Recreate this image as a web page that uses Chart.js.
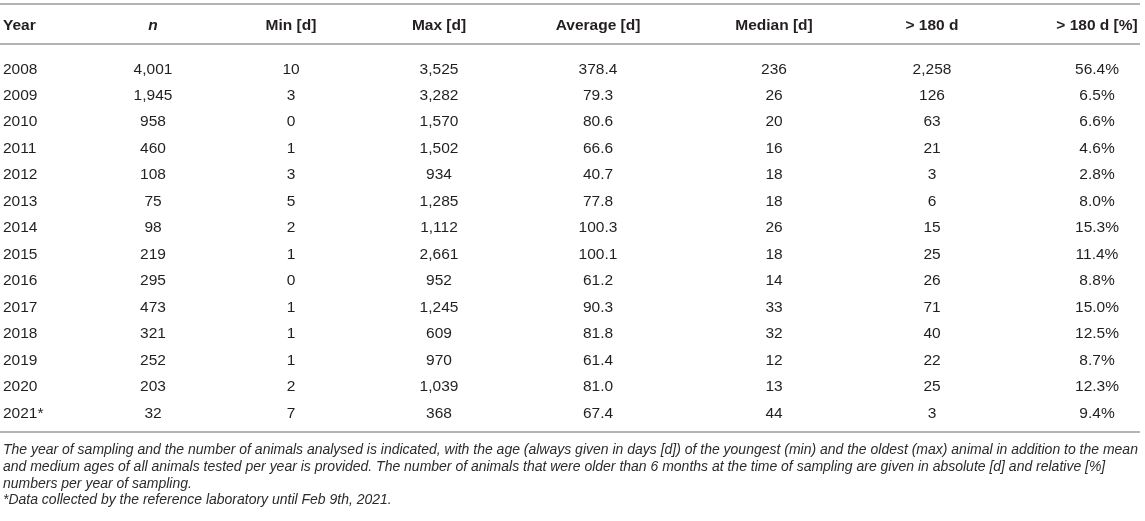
<!DOCTYPE html>
<html><head><meta charset="utf-8">
<script src="https://cdn.jsdelivr.net/npm/chart.js@4/dist/chart.umd.min.js"></script>
<style>html,body{margin:0;padding:0;background:#fff;overflow:hidden}#wrap{width:1145px;height:521px;position:relative}</style>
</head><body><div id="wrap"><canvas id="c" width="1145" height="521"></canvas></div>
<script>
// ---------- DATA ----------
const headers = ['Year', 'n', 'Min [d]', 'Max [d]', 'Average [d]', 'Median [d]', '> 180 d', '> 180 d [%]'];
const years = ['2008','2009','2010','2011','2012','2013','2014','2015','2016','2017','2018','2019','2020','2021*'];
const nAnimals   = [4001, 1945, 958, 460, 108, 75, 98, 219, 295, 473, 321, 252, 203, 32];
const minDays    = [10, 3, 0, 1, 3, 5, 2, 1, 0, 1, 1, 1, 2, 7];
const maxDays    = [3525, 3282, 1570, 1502, 934, 1285, 1112, 2661, 952, 1245, 609, 970, 1039, 368];
const avgDays    = [378.4, 79.3, 80.6, 66.6, 40.7, 77.8, 100.3, 100.1, 61.2, 90.3, 81.8, 61.4, 81.0, 67.4];
const medianDays = [236, 26, 20, 16, 18, 18, 26, 18, 14, 33, 32, 12, 13, 44];
const over180    = [2258, 126, 63, 21, 3, 6, 15, 25, 26, 71, 40, 22, 25, 3];
const over180Pct = [56.4, 6.5, 6.6, 4.6, 2.8, 8.0, 15.3, 11.4, 8.8, 15.0, 12.5, 8.7, 12.3, 9.4];
const captionLines = [
  'The year of sampling and the number of animals analysed is indicated, with the age (always given in days [d]) of the youngest (min) and the oldest (max) animal in addition to the mean',
  'and medium ages of all animals tested per year is provided. The number of animals that were older than 6 months at the time of sampling are given in absolute [d] and relative [%]',
  'numbers per year of sampling.'
];
const footnote = '*Data collected by the reference laboratory until Feb 9th, 2021.';

// ---------- LAYOUT / STYLE ----------
const W = 1145, H = 521;
const COL_X = [3, 153, 291, 439, 598, 774, 932, 1097];
const COL_ALIGN = ['left','center','center','center','center','center','center','center'];
const ROW0_Y = 68, ROW_H = 26.46, HEADER_Y = 24;
const RULES_Y = [4, 44, 432];
const RULE_X1 = 0, RULE_X2 = 1140;
const CAPTION_Y = [449, 466, 483], FOOT_Y = 499;
const CAPTION_X = 3, CAPTION_W = 1136;
const FONT = '"Liberation Sans", Arial, Helvetica, sans-serif';
const TXT = '#231f20', CAP_TXT = '#2b2b2b', RULE = '#b4b4b4';
const BODY_PX = 15.5;

const fmtInt = v => v.toLocaleString('en-US');
const fmt1 = v => v.toFixed(1);
const columns = [
  years,
  nAnimals.map(fmtInt),
  minDays.map(fmtInt),
  maxDays.map(fmtInt),
  avgDays.map(fmt1),
  medianDays.map(fmtInt),
  over180.map(fmtInt),
  over180Pct.map(v => fmt1(v) + '%')
];

const yMin = -ROW0_Y / ROW_H;
const yMax = yMin + H / ROW_H;
const pxToRow = p => (p - ROW0_Y) / ROW_H;

const datasets = columns.map((col, c) => ({
  label: headers[c],
  data: col.map((t, i) => ({ x: COL_X[c], y: i })),
  texts: col,
  align: COL_ALIGN[c],
  pointRadius: 0,
  pointHoverRadius: 0,
  showLine: false
}));

const tablePlugin = {
  id: 'tablePlugin',
  afterDatasetsDraw(chart) {
    const ctx = chart.ctx;
    const ys = chart.scales.y;
    ctx.save();
    // rules
    ctx.strokeStyle = RULE;
    ctx.lineWidth = 2;
    RULES_Y.forEach(p => {
      const y = ys.getPixelForValue(pxToRow(p));
      ctx.beginPath();
      ctx.moveTo(RULE_X1, y);
      ctx.lineTo(RULE_X2, y);
      ctx.stroke();
    });
    ctx.fillStyle = TXT;
    ctx.textBaseline = 'alphabetic';
    const capOff = BODY_PX * 0.716 / 2;
    // headers & cells
    chart.data.datasets.forEach((ds, c) => {
      const meta = chart.getDatasetMeta(c);
      const hx = meta.data[0].x;
      const hy = ys.getPixelForValue(pxToRow(HEADER_Y));
      ctx.textAlign = ds.align;
      ctx.font = (c === 1 ? 'italic bold ' : 'bold ') + BODY_PX + 'px ' + FONT;
      ctx.fillText(ds.label, hx, hy + capOff);
      ctx.font = BODY_PX + 'px ' + FONT;
      meta.data.forEach((el, i) => {
        ctx.fillText(ds.texts[i], el.x, el.y + capOff);
      });
    });
    // caption
    let size = 13;
    ctx.font = 'italic ' + size + 'px ' + FONT;
    const w = ctx.measureText(captionLines[0]).width;
    size = size * CAPTION_W / w;
    ctx.font = 'italic ' + size + 'px ' + FONT;
    ctx.fillStyle = CAP_TXT;
    ctx.textAlign = 'left';
    const cOff = size * 0.716 / 2;
    captionLines.forEach((line, i) => {
      ctx.fillText(line, CAPTION_X, ys.getPixelForValue(pxToRow(CAPTION_Y[i])) + cOff);
    });
    ctx.fillText(footnote, CAPTION_X, ys.getPixelForValue(pxToRow(FOOT_Y)) + cOff);
    ctx.restore();
  }
};

new Chart(document.getElementById('c'), {
  type: 'scatter',
  data: { datasets },
  options: {
    responsive: false,
    animation: false,
    events: [],
    devicePixelRatio: 1,
    layout: { padding: 0 },
    plugins: { legend: { display: false }, tooltip: { enabled: false } },
    scales: {
      x: { type: 'linear', min: 0, max: W, display: false },
      y: { type: 'linear', min: yMin, max: yMax, reverse: true, display: false }
    }
  },
  plugins: [tablePlugin]
});
</script></body></html>
